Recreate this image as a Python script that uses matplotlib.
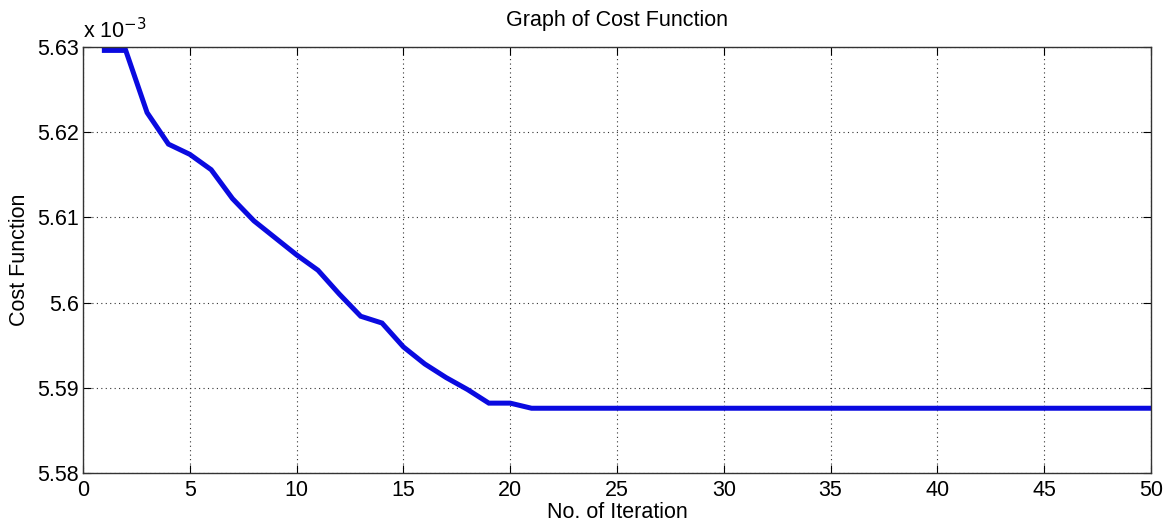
import matplotlib
matplotlib.use("Agg")
import matplotlib.pyplot as plt
from matplotlib.ticker import FuncFormatter, MultipleLocator

plt.rcParams['font.family'] = ['Liberation Sans', 'DejaVu Sans']

iterations = list(range(1, 51))
# cost values in units of 1e-3
cost = [5.6296, 5.6296, 5.6223, 5.6186, 5.6174, 5.6156, 5.6122, 5.6096, 5.6076, 5.6056,
        5.6038, 5.6010, 5.5984, 5.5976, 5.5948, 5.5928, 5.5912, 5.5898, 5.5882, 5.5882] + \
       [5.5876] * 30

title = "Graph of Cost Function"
xlabel = "No. of Iteration"
ylabel = "Cost Function"

fig = plt.figure(figsize=(11.75, 5.31), dpi=100)
ax = fig.add_axes([83/1175, 58/531, (1151-83)/1175, (473-47)/531])

ax.plot(iterations, cost, color='#0a0ae0', linewidth=3.6, solid_joinstyle='miter')
ax.set_xlim(0, 50)
ax.set_ylim(5.58, 5.63)
ax.xaxis.set_major_locator(MultipleLocator(5))
ax.yaxis.set_major_locator(MultipleLocator(0.01))
ax.yaxis.set_major_formatter(FuncFormatter(lambda v, p: f"{round(v, 4):g}"))
ax.grid(True, linestyle=(0, (1, 3)), color='#333333', linewidth=0.8)
ax.tick_params(direction='in', length=6, labelsize=15.5, top=True, right=True)
ax.tick_params(axis='x', pad=5)
ax.tick_params(axis='y', pad=3)
for s in ax.spines.values():
    s.set_color('#333333')
    s.set_linewidth(1.0)

ax.set_title(title, fontsize=15.5, pad=15)
ax.set_xlabel(xlabel, fontsize=15.5, labelpad=1)
ax.set_ylabel(ylabel, fontsize=15.5, labelpad=5)
ax.text(0.0, 1.008, r"x 10$^{-3}$", transform=ax.transAxes, fontsize=15.5,
        ha='left', va='bottom')

fig.savefig("out.png", dpi=100, facecolor='white')
